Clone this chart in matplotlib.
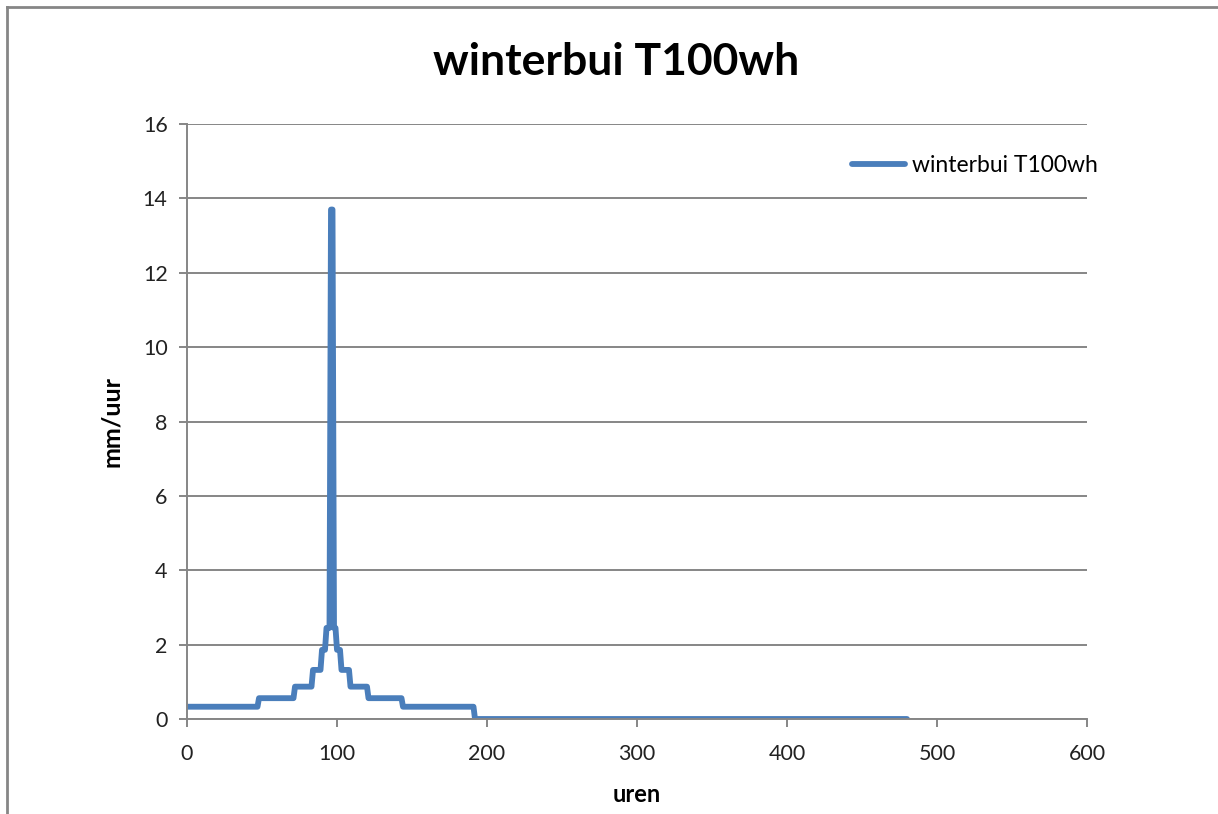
import numpy as np
import matplotlib.pyplot as plt
from matplotlib.lines import Line2D

# Neerslag per uur (mm/uur), als niveaus met duur in uren
niveaus = [0.33, 0.56, 0.87, 1.32, 1.86, 2.45, 13.7, 2.45, 1.86, 1.32, 0.87, 0.56, 0.33, 0.0]
duur_uren = [48, 24, 12, 6, 3, 3, 2, 2, 3, 6, 12, 23, 48, 289]

titel = "winterbui T100wh"
x_ticks = [0, 100, 200, 300, 400, 500, 600]
y_ticks = [0, 2, 4, 6, 8, 10, 12, 14, 16]

neerslag = np.repeat(niveaus, duur_uren)
uren = np.arange(len(neerslag))

plt.rcParams['font.family'] = ['Lato', 'DejaVu Sans']

fig = plt.figure(figsize=(12.18, 8.14), dpi=100)
ax = fig.add_axes([187 / 1218, 95 / 814, 900 / 1218, 595 / 814])

grijs = '#868686'

ax.plot(uren, neerslag, color='#4a7ebb', linewidth=4.2, label=titel,
        solid_capstyle='round', solid_joinstyle='round')

ax.set_xlim(0, 600)
ax.set_ylim(0, 16)
ax.set_xticks(x_ticks)
ax.set_yticks(y_ticks)
ax.grid(axis='y', color=grijs, linewidth=1.4)
ax.set_axisbelow(True)

for kant in ['top', 'right']:
    ax.spines[kant].set_visible(False)
for kant in ['left', 'bottom']:
    ax.spines[kant].set_color(grijs)
    ax.spines[kant].set_linewidth(1.4)

ax.tick_params(axis='both', colors=grijs, length=6, width=1.4, labelcolor='#222222',
               labelsize=15.5)
ax.tick_params(axis='x', pad=12)
ax.tick_params(axis='y', pad=8)

ax.set_xlabel("uren", fontsize=17, fontweight='bold', labelpad=14)
ax.set_ylabel("mm/uur", fontsize=18, fontweight='bold', labelpad=14)

fig.text(616 / 1218, 1 - 62 / 814, titel, ha='center', va='center',
         fontsize=32, fontweight='bold')

ax.legend(loc='upper right', bbox_to_anchor=(1.035, 0.983), frameon=False,
          fontsize=16.5, handlelength=2.3, handletextpad=0.3)

# rand van de grafiek
fig.add_artist(Line2D([7 / 1218, 1.0], [1 - 7 / 814, 1 - 7 / 814], color=grijs, linewidth=2,
                      transform=fig.transFigure))
fig.add_artist(Line2D([7 / 1218, 7 / 1218], [0, 1 - 7 / 814], color=grijs, linewidth=2,
                      transform=fig.transFigure))

fig.savefig("out.png", dpi=100)
